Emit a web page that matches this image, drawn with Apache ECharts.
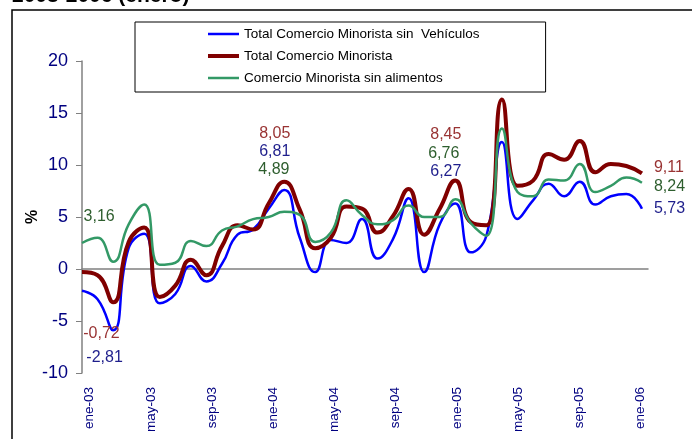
<!DOCTYPE html>
<html>
<head>
<meta charset="utf-8">
<title>Comercio Minorista 2003-2006</title>
<script src="https://cdn.jsdelivr.net/npm/echarts@6/dist/echarts.min.js"></script>
<style>
  html, body { margin: 0; padding: 0; background: #fff; }
  #chart { width: 697px; height: 439px; }
</style>
</head>
<body>
<div id="chart"></div>
<script>
// meses (ene-03 .. ene-06)
const meses = [
  'ene-03','feb-03','mar-03','abr-03','may-03','jun-03','jul-03','ago-03','sep-03','oct-03','nov-03','dic-03',
  'ene-04','feb-04','mar-04','abr-04','may-04','jun-04','jul-04','ago-04','sep-04','oct-04','nov-04','dic-04',
  'ene-05','feb-05','mar-05','abr-05','may-05','jun-05','jul-05','ago-05','sep-05','oct-05','nov-05','dic-05',
  'ene-06'
]

const nombres = ['Total Comercio Minorista sin  Vehículos', 'Total Comercio Minorista', 'Comercio Minorista sin alimentos']

// % variación
const sinVehiculos = [
  -2.1, -2.9, -5.9, 2.0, 3.4, -3.3, -2.4, 0.3, -1.2, 0.5, 3.3, 3.8,
  5.8, 7.6, 3.0, -0.3, 2.8, 2.5, 4.8, 1.0, 2.9, 6.8, -0.3, 4.3,
  6.3, 1.6, 3.2, 12.2, 4.8, 6.6, 8.2, 7.0, 8.4, 6.2, 7.0, 7.2,
  5.8
]
const totalMinorista = [
  -0.3, -0.6, -3.2, 2.6, 4.0, -2.7, -1.6, 0.9, -0.6, 2.2, 4.2, 3.8,
  6.3, 8.4, 5.7, 2.0, 3.0, 6.0, 5.8, 3.5, 5.1, 7.7, 3.3, 5.8,
  8.5, 4.5, 4.2, 16.3, 8.0, 8.5, 11.05, 10.5, 12.3, 9.3, 10.1, 9.9,
  9.2
]
const sinAlimentos = [
  2.5, 3.0, 0.7, 4.3, 6.2, 0.4, 0.6, 2.7, 2.2, 3.7, 4.1, 4.8,
  5.0, 5.5, 5.2, 2.6, 3.5, 6.6, 5.2, 4.3, 4.7, 6.1, 5.0, 5.0,
  6.7, 4.4, 3.2, 13.5, 7.4, 7.0, 8.6, 8.5, 10.1, 7.4, 8.0, 8.8,
  8.3
]

// anotaciones: [texto, posición en meses, posición en %]
const notasSinVeh = [['-2,81', 1.45, -8.5], ['6,81', 12.39, 11.28], ['6,27', 23.39, 9.36]]
const notasTotal = [['-0,72', 1.25, -6.25], ['8,05', 12.39, 12.98], ['8,45', 23.39, 12.88]]
const notasSinAlim = [['3,16', 1.1, 5.0], ['4,89', 12.34, 9.55], ['6,76', 23.26, 11.06]]
const finales = ['5,73', '9,11', '8,24']

const colores = ['#0000FF', '#800000', '#339966']
const coloresNota = ['#1F1F8C', '#993333', '#2E5E2E']

function notas(list, color) {
  return {
    symbol: 'circle', symbolSize: 1, itemStyle: { color: 'transparent' },
    label: { show: true, position: 'inside', formatter: '{b}', color, fontSize: 16 },
    data: list.map(n => ({ name: n[0], coord: [n[1], n[2]] }))
  }
}

function serie(i, values, width, list, endOffset) {
  return {
    name: nombres[i], type: 'line', xAxisIndex: 2, yAxisIndex: 0,
    data: values.map((v, k) => [k, v]),
    smooth: 0.5, symbol: 'none', showSymbol: false,
    lineStyle: { color: colores[i], width }, itemStyle: { color: colores[i] },
    markPoint: notas(list, coloresNota[i]),
    endLabel: { show: true, formatter: finales[i], color: coloresNota[i], fontSize: 16, offset: endOffset },
    z: 2 + i
  }
}

const chart = echarts.init(document.getElementById('chart'))
chart.setOption({
  animation: false,
  textStyle: { fontFamily: 'Liberation Sans, Arial, sans-serif' },
  graphic: [
    { type: 'text', x: 12, y: -14, style: { text: '2003-2006 (enero)', fontSize: 21, fontWeight: 'bold', fontFamily: 'Liberation Sans, Arial, sans-serif', fill: '#000' } },
    { type: 'polyline', shape: { points: [[12, 439], [12, 10], [692, 10]] }, style: { stroke: '#000', lineWidth: 1.5, fill: null } }
  ],
  legend: {
    orient: 'vertical', left: 135, top: 22, padding: [5, 66, 7, 71], itemGap: 8,
    itemWidth: 31, itemHeight: 14, borderColor: '#000', borderWidth: 1,
    itemStyle: { opacity: 0 }, lineStyle: { width: 'inherit' },
    textStyle: { fontSize: 13.5, color: '#000' }, data: nombres
  },
  grid: { left: 82, right: 49, top: 61, bottom: 66 },
  xAxis: [
    { type: 'category', data: meses, boundaryGap: true, position: 'bottom',
      axisLine: { onZero: true, lineStyle: { color: '#808080', width: 1.5 } },
      axisTick: { interval: 3, length: 5, lineStyle: { color: '#333' } },
      axisLabel: { show: false }, splitLine: { show: false } },
    { type: 'category', data: meses, boundaryGap: true, position: 'bottom',
      axisLine: { show: false, onZero: false }, axisTick: { show: false },
      axisLabel: { interval: 3, rotate: 90, margin: 14, fontSize: 13.5, color: '#000080' } },
    { type: 'value', min: 0, max: 36.39, show: false }
  ],
  yAxis: {
    type: 'value', min: -10, max: 20, interval: 5,
    name: '%', nameLocation: 'middle', nameRotate: 90, nameGap: 41, nameMoveOverlap: false,
    nameTextStyle: { fontWeight: 'bold', fontSize: 16, color: '#000' },
    axisLine: { show: true, lineStyle: { color: '#808080', width: 1.5 } },
    axisTick: { show: true, length: 6, lineStyle: { color: '#808080' } },
    axisLabel: { fontSize: 18, color: '#000080', margin: 14 },
    splitLine: { show: false }
  },
  series: [
    serie(0, sinVehiculos, 2.5, notasSinVeh, [4, 0]),
    serie(1, totalMinorista, 4, notasTotal, [4, -6]),
    serie(2, sinAlimentos, 2.5, notasSinAlim, [4, 4])
  ]
})
</script>
</body>
</html>
